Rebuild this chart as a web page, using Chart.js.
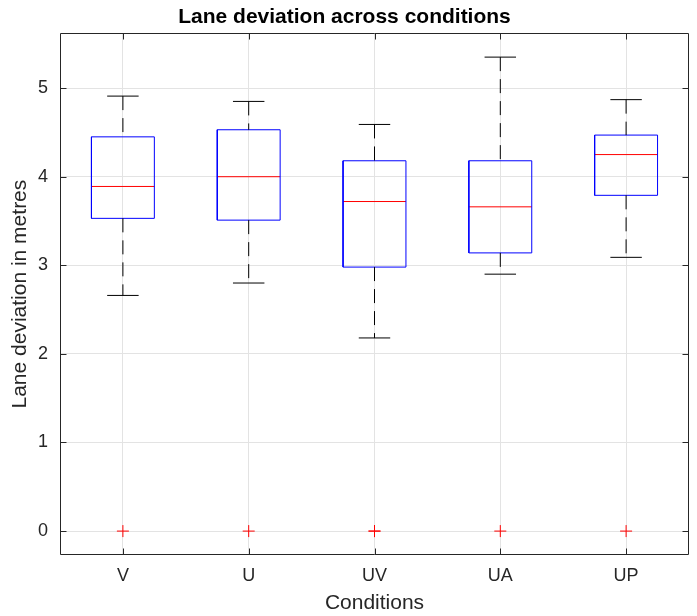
<!DOCTYPE html>
<html>
<head>
<meta charset="utf-8">
<script src="https://cdn.jsdelivr.net/npm/chart.js@4/dist/chart.umd.min.js"></script>
<style>
  html, body { margin: 0; padding: 0; background: #fff; }
  #wrap { width: 697px; height: 616px; }
</style>
</head>
<body>
<div id="wrap"><canvas id="chart-box" width="697" height="616"></canvas></div>
<script>
// values
const categories = ['V', 'U', 'UV', 'UA', 'UP'];
const whiskerLow = [2.66, 2.80, 2.18, 2.90, 3.09];
const q1 = [3.53, 3.51, 2.98, 3.14, 3.79];
const medians = [3.89, 4.00, 3.72, 3.66, 4.25];
const q3 = [4.45, 4.53, 4.18, 4.18, 4.47];
const whiskerHigh = [4.91, 4.85, 4.59, 5.35, 4.87];
const outliers = [[0], [0], [0, 0], [0], [0]];
const yTicks = [0, 1, 2, 3, 4, 5];

const FONT = '"Liberation Sans", Arial, Helvetica, sans-serif';
const INK = '#262626';
const BOX_HALF = 0.25, CAP_HALF = 0.125;

const line = (data, color, dash) => ({
  type: 'scatter', data, showLine: true, borderColor: color, borderWidth: 1,
  borderDash: dash || [], pointRadius: 0, fill: false, tension: 0,
});

const datasets = [];
categories.forEach((c, i) => {
  const x = i + 1;
  datasets.push(line([{ x, y: whiskerHigh[i] }, { x, y: q3[i] }], '#000', [14, 8]));
  datasets.push(line([{ x, y: q1[i] }, { x, y: whiskerLow[i] }], '#000', [14, 8]));
  datasets.push(line([{ x: x - CAP_HALF, y: whiskerHigh[i] }, { x: x + CAP_HALF, y: whiskerHigh[i] }], '#000'));
  datasets.push(line([{ x: x - CAP_HALF, y: whiskerLow[i] }, { x: x + CAP_HALF, y: whiskerLow[i] }], '#000'));
  datasets.push(line([
    { x: x - BOX_HALF, y: q1[i] }, { x: x + BOX_HALF, y: q1[i] },
    { x: x + BOX_HALF, y: q3[i] }, { x: x - BOX_HALF, y: q3[i] },
    { x: x - BOX_HALF, y: q1[i] }
  ], '#0000ff'));
  datasets.push(line([{ x: x - BOX_HALF, y: medians[i] }, { x: x + BOX_HALF, y: medians[i] }], '#ff0000'));
});
datasets.push({
  type: 'scatter',
  data: outliers.flatMap((arr, i) => arr.map(v => ({ x: i + 1, y: v }))),
  pointStyle: 'cross', pointRadius: 6, borderColor: '#ff0000', borderWidth: 1,
  backgroundColor: '#ff0000',
});

// MATLAB-like frame with inward ticks on all four sides
const frame = {
  id: 'frame',
  afterDatasetsDraw(chart) {
    const { ctx, chartArea: a, scales } = chart;
    ctx.save();
    ctx.strokeStyle = INK;
    ctx.lineWidth = 1;
    ctx.beginPath();
    const L = Math.round(a.left) + 0.5, R = Math.round(a.right) - 0.5;
    const T = Math.round(a.top) + 0.5, B = Math.round(a.bottom) - 0.5;
    ctx.rect(L, T, R - L, B - T);
    scales.y.ticks.forEach(t => {
      const y = Math.round(scales.y.getPixelForValue(t.value)) + 0.5;
      ctx.moveTo(L, y); ctx.lineTo(L + 6, y);
      ctx.moveTo(R, y); ctx.lineTo(R - 6, y);
    });
    scales.x.ticks.forEach(t => {
      const x = Math.round(scales.x.getPixelForValue(t.value)) + 0.5;
      ctx.moveTo(x, B); ctx.lineTo(x, B - 6);
      ctx.moveTo(x, T); ctx.lineTo(x, T + 6);
    });
    ctx.stroke();
    ctx.restore();
  }
};

new Chart(document.getElementById('chart-box'), {
  type: 'scatter',
  data: { datasets },
  plugins: [frame],
  options: {
    responsive: false,
    animation: false,
    layout: { padding: { left: 0, right: 8, top: 0, bottom: 0 } },
    plugins: {
      legend: { display: false },
      tooltip: { enabled: false },
      title: {
        display: true, text: 'Lane deviation across conditions', color: '#000',
        font: { family: FONT, size: 21, weight: 'bold' }, padding: { top: 5, bottom: 3 }
      }
    },
    scales: {
      x: {
        type: 'linear', min: 0.5, max: 5.5,
        afterBuildTicks: s => { s.ticks = categories.map((c, i) => ({ value: i + 1 })); },
        afterFit: s => { s.height = 61; },
        grid: { color: '#e3e3e3', drawTicks: false },
        border: { display: false },
        ticks: {
          color: INK, padding: 10, autoSkip: false, maxRotation: 0,
          font: { family: FONT, size: 18 },
          callback: v => categories[Math.round(v) - 1]
        },
        title: {
          display: true, text: 'Conditions', color: INK,
          font: { family: FONT, size: 21 }, padding: { top: 0, bottom: 0 }
        }
      },
      y: {
        min: -0.27, max: 5.62,
        afterBuildTicks: s => { s.ticks = yTicks.map(v => ({ value: v })); },
        afterFit: s => { s.width = 60; },
        grid: { color: '#e3e3e3', drawTicks: false },
        border: { display: false },
        ticks: { color: INK, padding: 12, font: { family: FONT, size: 18 } },
        title: {
          display: true, text: 'Lane deviation in metres', color: INK,
          font: { family: FONT, size: 21 }, padding: { top: 8, bottom: 0 }
        }
      }
    }
  }
});
</script>
</body>
</html>
